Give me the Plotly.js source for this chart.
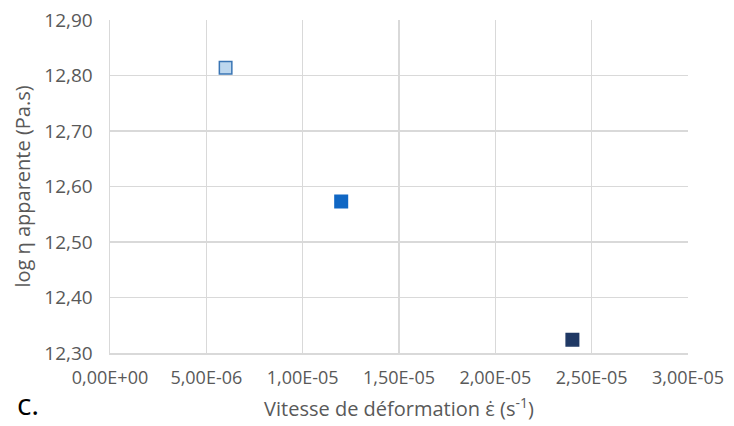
<!DOCTYPE html>
<html>
<head>
<meta charset="utf-8">
<script src="https://cdn.plot.ly/plotly-3.0.1.min.js"></script>
<style>
html,body{margin:0;padding:0;background:#fff;}
#chart{width:734px;height:426px;}
</style>
</head>
<body>
<div id="chart"></div>
<script>
// Data
const strainRate = [6.0e-6, 1.2e-5, 2.4e-5];
const logViscosity = [12.814, 12.573, 12.324];
const markerFill = ['#bdd7ee', '#1067c4', '#1f3864'];
const markerLine = ['#3a75b4', '#1067c4', '#1f3864'];

const xTickVals = [0, 5e-6, 1e-5, 1.5e-5, 2e-5, 2.5e-5, 3e-5];
const xTickText = ['0,00E+00', '5,00E-06', '1,00E-05', '1,50E-05', '2,00E-05', '2,50E-05', '3,00E-05'];
const yTickVals = [12.3, 12.4, 12.5, 12.6, 12.7, 12.8, 12.9];
const yTickText = ['12,30', '12,40', '12,50', '12,60', '12,70', '12,80', '12,90'];

const font = '"Open Sans", "Noto Sans", sans-serif';
const grey = '#595959';

const trace = {
  type: 'scatter',
  mode: 'markers',
  x: strainRate,
  y: logViscosity,
  marker: {
    symbol: 'square',
    size: 12.5,
    color: markerFill,
    line: {color: markerLine, width: 1.5}
  },
  hoverinfo: 'x+y',
  showlegend: false
};

const layout = {
  width: 734,
  height: 426,
  margin: {l: 110, r: 46, t: 20, b: 73},
  paper_bgcolor: '#ffffff',
  plot_bgcolor: '#ffffff',
  font: {family: font, color: grey},
  xaxis: {
    range: [0, 3e-5],
    tickvals: xTickVals,
    ticktext: xTickText,
    tickfont: {size: 18, color: grey},
    ticklabelstandoff: 8,
    showgrid: true,
    gridcolor: '#d9d9d9',
    gridwidth: 1.5,
    zeroline: false,
    showline: true,
    linecolor: '#d9d9d9',
    linewidth: 1.5,
    ticks: '',
    fixedrange: true,
    title: {
      text: 'Vitesse de déformation ε̇ (s<sup>-1</sup>)',
      font: {size: 20, color: grey},
      standoff: 14
    }
  },
  yaxis: {
    range: [12.3, 12.9],
    tickvals: yTickVals,
    ticktext: yTickText,
    tickfont: {size: 19, color: grey},
    ticklabelstandoff: 12,
    showgrid: true,
    gridcolor: '#d9d9d9',
    gridwidth: 1.5,
    zeroline: false,
    showline: true,
    linecolor: '#d9d9d9',
    linewidth: 1.5,
    mirror: false,
    ticks: '',
    fixedrange: true,
    title: {
      text: 'log η apparente (Pa.s)',
      font: {size: 20, color: grey},
      standoff: 8
    }
  },
  annotations: [{
    xref: 'paper', yref: 'paper',
    x: -0.162, y: -0.217,
    xanchor: 'left', yanchor: 'bottom',
    borderpad: 0,
    text: 'c.',
    showarrow: false,
    font: {family: font, size: 30, color: '#000000'}
  }]
};

Plotly.newPlot('chart', [trace], layout, {displayModeBar: false, staticPlot: true});
</script>
</body>
</html>
